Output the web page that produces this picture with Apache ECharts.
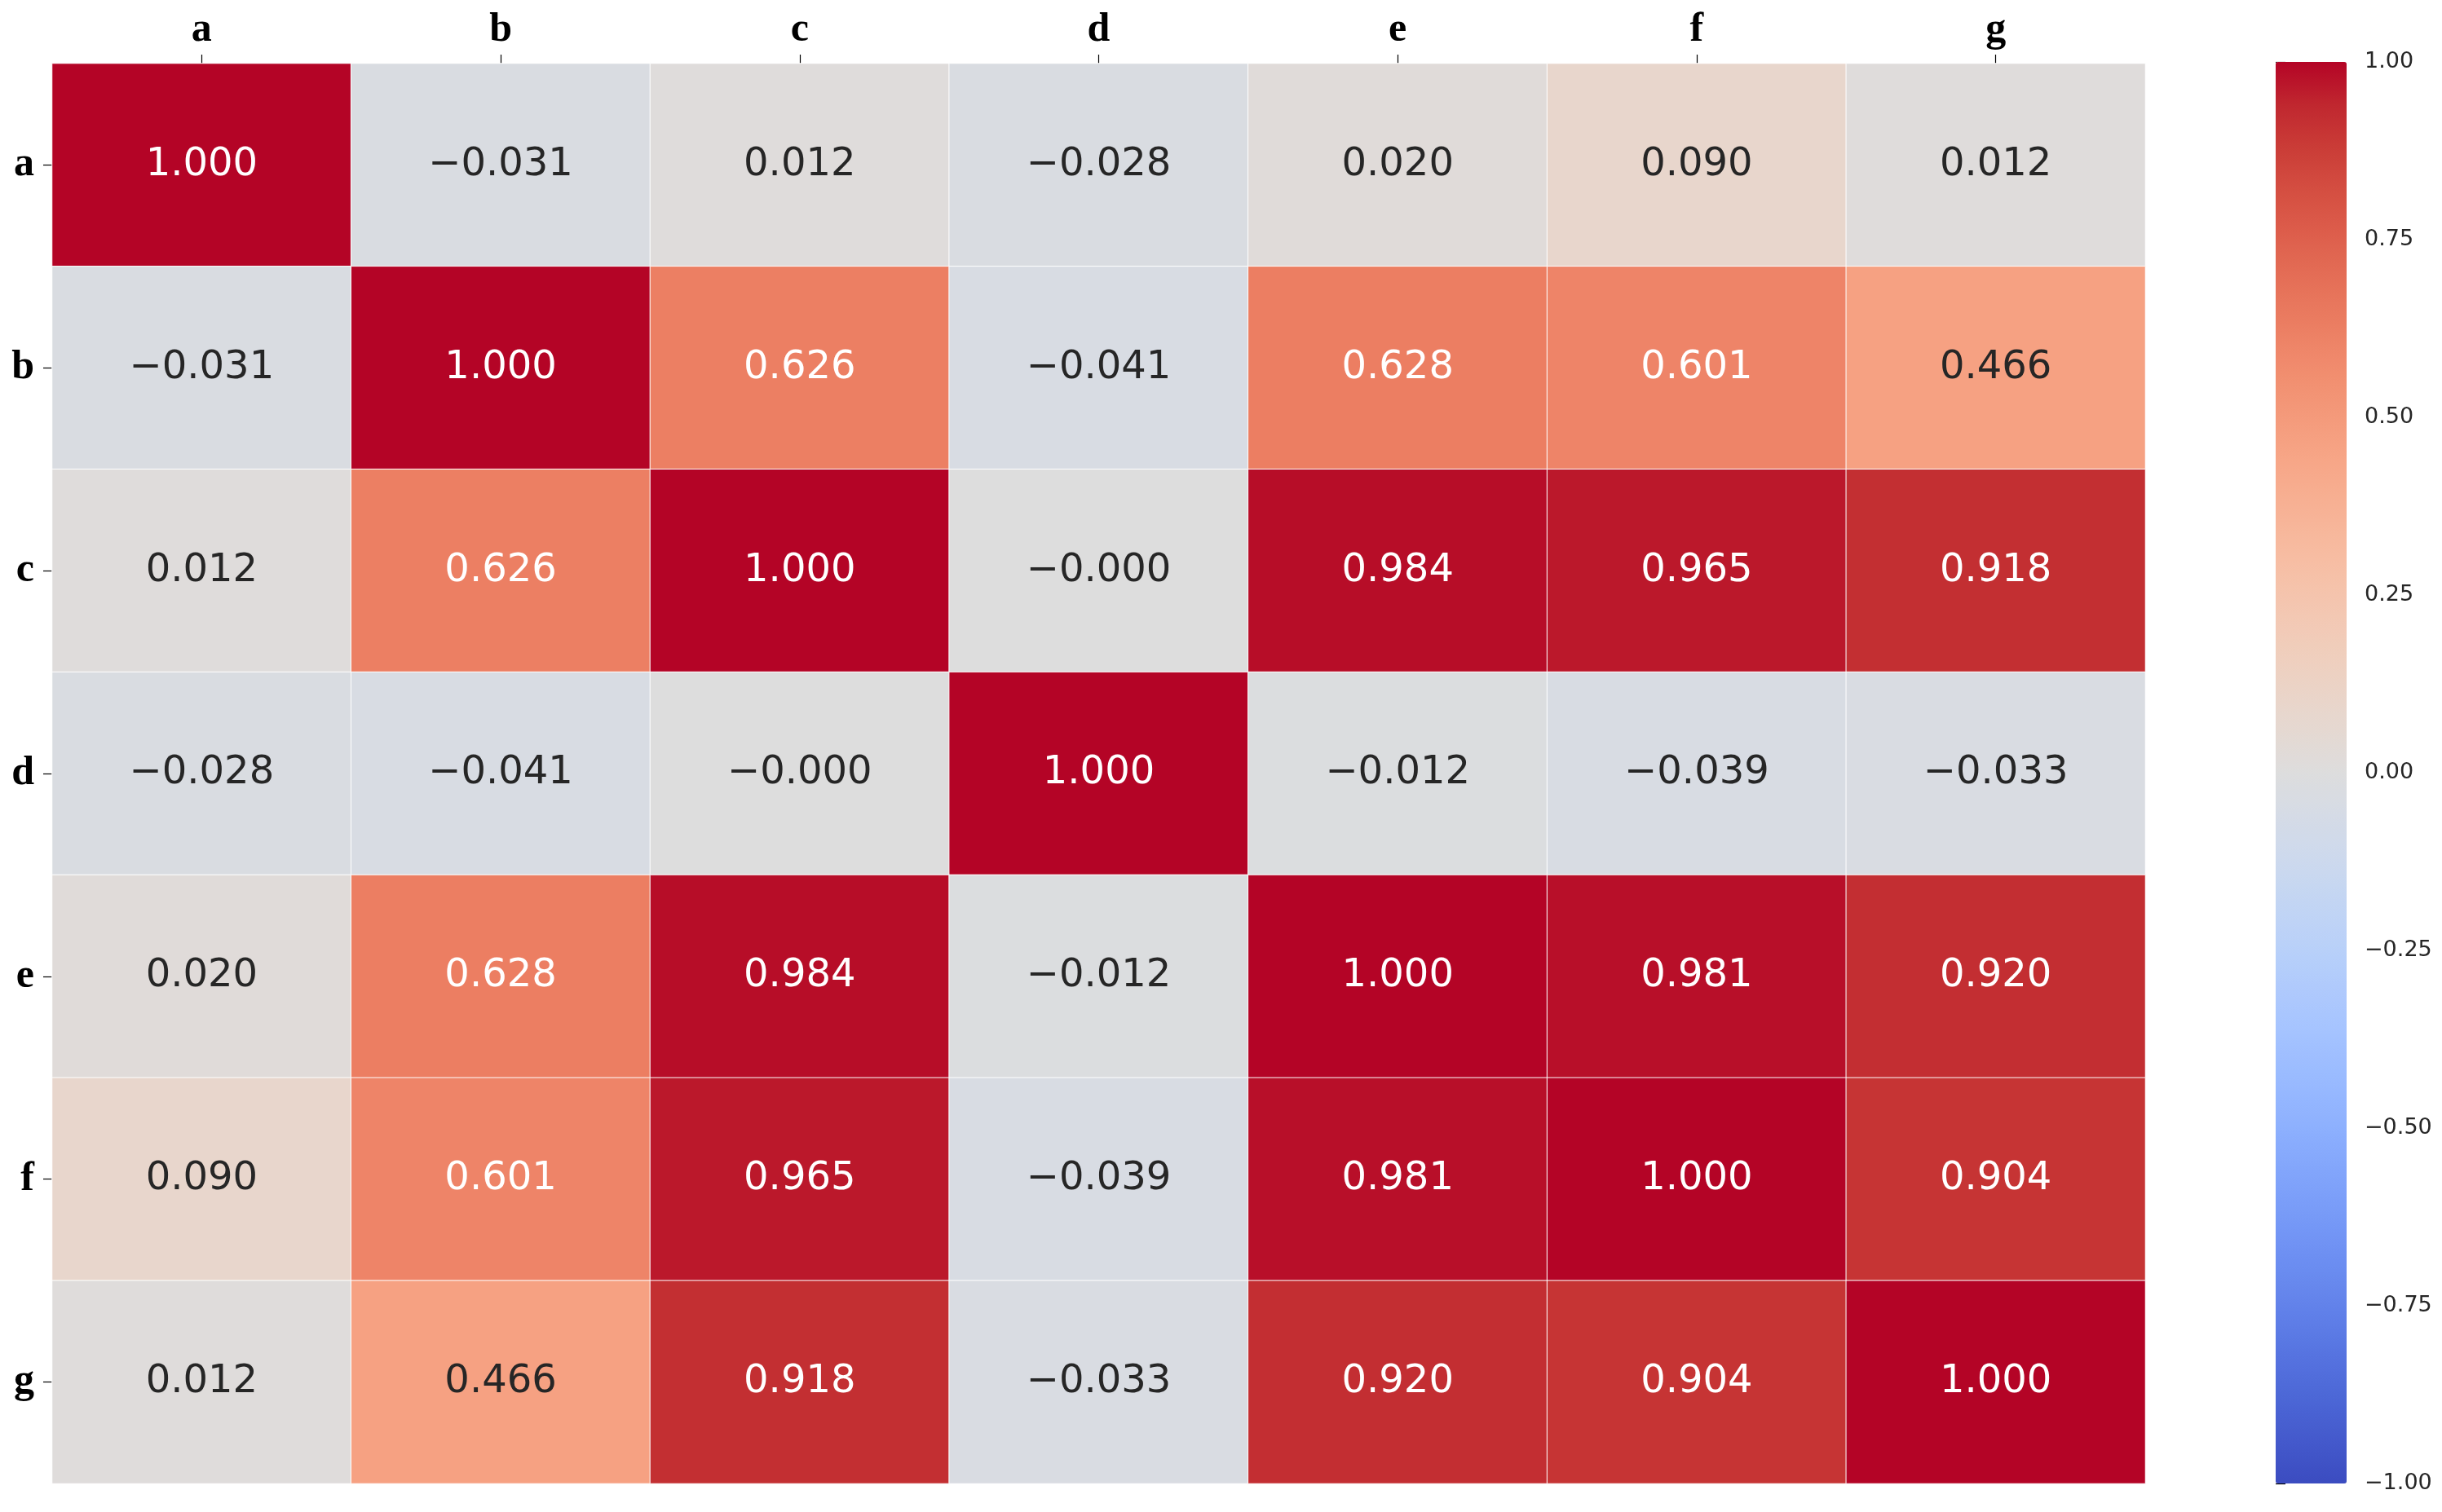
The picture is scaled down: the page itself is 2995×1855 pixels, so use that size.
<!DOCTYPE html>
<html>
<head>
<meta charset="utf-8">
<script src="https://cdn.jsdelivr.net/npm/echarts@6/dist/echarts.min.js"></script>
<style>html,body{margin:0;padding:0;background:#fff}#c{width:2995px;height:1855px}</style>
</head>
<body>
<div id="c"></div>
<script>
const categories = ['a','b','c','d','e','f','g'];
const rowA = [1.000, -0.031, 0.012, -0.028, 0.020, 0.090, 0.012];
const rowB = [-0.031, 1.000, 0.626, -0.041, 0.628, 0.601, 0.466];
const rowC = [0.012, 0.626, 1.000, -0.0002, 0.984, 0.965, 0.918];
const rowD = [-0.028, -0.041, -0.0002, 1.000, -0.012, -0.039, -0.033];
const rowE = [0.020, 0.628, 0.984, -0.012, 1.000, 0.981, 0.920];
const rowF = [0.090, 0.601, 0.965, -0.039, 0.981, 1.000, 0.904];
const rowG = [0.012, 0.466, 0.918, -0.033, 0.920, 0.904, 1.000];
const rows = [rowA, rowB, rowC, rowD, rowE, rowF, rowG];
const colorbarTicks = [-1, -0.75, -0.5, -0.25, 0, 0.25, 0.5, 0.75, 1];

const coolwarm = [
 [59,76,192],[68,90,204],[77,104,215],[87,117,225],[98,130,234],[108,142,241],[119,154,247],[130,165,251],
 [141,176,254],[152,185,255],[163,194,255],[174,201,253],[184,208,249],[194,213,244],[204,217,238],[213,219,230],
 [221,221,221],[229,216,209],[236,211,197],[241,204,185],[245,196,173],[247,187,160],[247,177,148],[247,166,135],
 [244,154,123],[241,141,111],[236,127,99],[229,112,88],[222,96,77],[213,80,66],[203,62,56],[192,40,47],[180,4,38]
].map(c => 'rgb(' + c.join(',') + ')');

function fmt(v){ return v < 0 ? '\u2212' + Math.abs(v).toFixed(3) : v.toFixed(3); }

const data = [];
rows.forEach((row, r) => row.forEach((v, c) => {
  data.push({ value: [c, r, v], label: { color: v > 0.5 ? '#ffffff' : '#262626' } });
}));

const chart = echarts.init(document.getElementById('c'), null, {renderer: 'canvas'});
chart.setOption({
  backgroundColor: '#ffffff',
  animation: false,
  grid: [
    { left: 64, top: 78, width: 2567, height: 1742 },
    { left: 2791, top: 76, width: 87, height: 1744 }
  ],
  xAxis: [
    { type: 'category', data: categories, position: 'top', gridIndex: 0,
      axisLine: { show: false },
      axisTick: { show: true, alignWithLabel: true, length: 11, lineStyle: { color: '#000', width: 1.2 } },
      axisLabel: { fontFamily: 'Liberation Serif', fontWeight: 'bold', fontSize: 50, color: '#000', margin: 16 },
      splitLine: { show: false } },
    { type: 'value', gridIndex: 1, show: false, min: 0, max: 1 }
  ],
  yAxis: [
    { type: 'category', data: categories, inverse: true, gridIndex: 0,
      axisLine: { show: false },
      axisTick: { show: true, alignWithLabel: true, length: 11, lineStyle: { color: '#000', width: 1.2 } },
      axisLabel: { fontFamily: 'Liberation Serif', fontWeight: 'bold', fontSize: 50, color: '#000', margin: 22 },
      splitLine: { show: false } },
    { type: 'value', gridIndex: 1, position: 'right', min: -1, max: 1, interval: 0.25,
      axisLine: { show: false },
      axisTick: { show: true, length: 12, lineStyle: { color: '#000', width: 1.2 } },
      axisLabel: { fontFamily: 'DejaVu Sans', fontSize: 27, color: '#262626', margin: 22,
        formatter: v => (v < 0 ? '\u2212' + Math.abs(v).toFixed(2) : v.toFixed(2)) },
      splitLine: { show: false } }
  ],
  visualMap: {
    type: 'continuous', min: -1, max: 1, seriesIndex: 0, calculable: false,
    orient: 'vertical', left: 2791, top: 76, itemWidth: 87, itemHeight: 1744,
    padding: 0, text: null, showLabel: false,
    inRange: { color: coolwarm }
  },
  series: [
    { type: 'heatmap', xAxisIndex: 0, yAxisIndex: 0, data: data,
      itemStyle: { borderColor: '#ffffff', borderWidth: 1 },
      label: { show: true, fontFamily: 'DejaVu Sans', fontSize: 48,
        formatter: p => fmt(p.value[2]) },
      emphasis: { disabled: true } },
    { type: 'scatter', xAxisIndex: 1, yAxisIndex: 1, data: colorbarTicks.map(t => [2, t]), symbolSize: 0, silent: true }
  ]
});
</script>
</body>
</html>
